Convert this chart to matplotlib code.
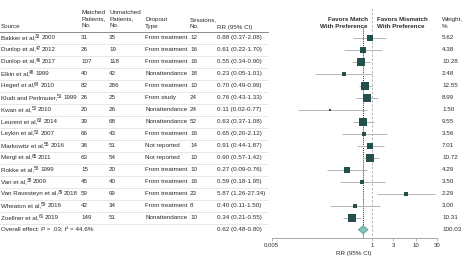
import matplotlib
matplotlib.use("Agg")
import matplotlib.pyplot as plt
from matplotlib.patches import Polygon
import numpy as np

FONT = "Liberation Sans"
plt.rcParams['font.family'] = [FONT, 'DejaVu Sans']

authors = ["Bakker et al", "Dunlop et al", "Dunlop et al", "Elkin et al", "Hegerl et al",
           "Kludt and Perlmuter", "Kwan et al", "Leurent et al", "Leykin et al",
           "Markowitz et al", "Mergl et al", "Rokke et al", "Van et al",
           "Van Ravesteyn et al", "Wheaton et al", "Zoellner et al"]
refs = [33, 47, 46, 48, 64, 51, 52, 63, 53, 55, 65, 58, 38, 39, 59, 61]
years = [2000, 2012, 2017, 1999, 2010, 1999, 2010, 2014, 2007, 2016, 2011, 1999, 2009, 2018, 2016, 2019]
matched = [31, 26, 107, 40, 82, 26, 20, 39, 66, 36, 63, 15, 45, 59, 42, 149]
unmatched = [35, 19, 118, 42, 286, 25, 26, 68, 43, 51, 54, 20, 40, 99, 34, 51]
dropout = ["From treatment", "From treatment", "From treatment", "Nonattendance", "From treatment",
           "From study", "Nonattendance", "Nonattendance", "From treatment", "Not reported",
           "Not reported", "From treatment", "From treatment", "From treatment", "From treatment",
           "Nonattendance"]
sessions = [12, 16, 16, 18, 10, 24, 24, 52, 16, 14, 10, 10, 16, 23, 8, 10]
rr = [0.88, 0.61, 0.55, 0.23, 0.70, 0.76, 0.11, 0.63, 0.65, 0.91, 0.90, 0.27, 0.59, 5.87, 0.40, 0.34]
lo = [0.37, 0.22, 0.34, 0.05, 0.49, 0.43, 0.02, 0.37, 0.20, 0.44, 0.57, 0.09, 0.18, 1.26, 0.11, 0.21]
hi = [2.08, 1.70, 0.90, 1.01, 0.99, 1.33, 0.77, 1.08, 2.12, 1.87, 1.42, 0.76, 1.95, 27.34, 1.50, 0.55]
weights = [5.62, 4.38, 10.28, 2.48, 12.55, 8.99, 1.50, 9.55, 3.56, 7.01, 10.72, 4.29, 3.50, 2.29, 3.00, 10.31]
overall_rr, overall_lo, overall_hi, overall_w = 0.62, 0.48, 0.80, 100.03
overall_label = "Overall effect: P = .03; I\u00b2 = 44.6%"
xticks = [0.005, 1, 3, 10, 30]
xticklabels = ["0.005", "1", "3", "10", "30"]

W, H = 468, 259
fig = plt.figure(figsize=(W / 100, H / 100), dpi=100)
bg = fig.add_axes([0, 0, 1, 1])
bg.set_xlim(0, W)
bg.set_ylim(H, 0)
bg.axis('off')

TXT = '#2b2b2b'
FS = 4.5
LS = 1.35
row0, dy = 37.7, 12.0
n = len(authors)

def ry(i):
    return row0 + dy * i

# header
hdr = dict(fontsize=FS, color=TXT, va='center', ha='left', linespacing=LS)
bg.text(1, 27, "Source", **hdr)
bg.text(81, 19, "Matched\nPatients,\nNo.", **hdr)
bg.text(109, 19, "Unmatched\nPatients,\nNo.", **hdr)
bg.text(145, 23, "Dropout\nType", **hdr)
bg.text(190, 23, "Sessions,\nNo.", **hdr)
bg.text(217, 27, "RR (95% CI)", **hdr)
bg.text(368, 23, "Favors Match\nWith Preference", fontweight='bold', **{**hdr, 'ha': 'right'})
bg.text(377, 23, "Favors Mismatch\nWith Preference", fontweight='bold', **hdr)
bg.text(442, 23, "Weight,\n%", **hdr)
bg.plot([0, 268], [31.5, 31.5], color='#777777', lw=0.6)

cell = dict(fontsize=FS, color=TXT, va='center', ha='left')
for i in range(n):
    y = ry(i)
    t1 = bg.text(1, y, f"{authors[i]},", **cell)
    t2 = bg.annotate(str(refs[i]), xy=(1, 0.26), xycoords=t1, xytext=(-0.4, 0),
                     textcoords='offset points', fontsize=FS * 0.75, color=TXT,
                     va='bottom', ha='left')
    bg.annotate(f"{years[i]}", xy=(1, 0.5), xycoords=(t2, t1), xytext=(0.9, 0),
                textcoords='offset points', fontsize=FS, color=TXT,
                va='center', ha='left')
    bg.text(81, y, str(matched[i]), **cell)
    bg.text(109, y, str(unmatched[i]), **cell)
    bg.text(145, y, dropout[i], **cell)
    bg.text(190, y, str(sessions[i]), **cell)
    bg.text(217, y, f"{rr[i]:.2f} ({lo[i]:.2f}-{hi[i]:.2f})", **cell)
    bg.text(442, y, f"{weights[i]:.2f}", **cell)
    bg.plot([0, 268], [y + 6, y + 6], color='#dddddd', lw=0.5)
yo = ry(n)
bg.text(1, yo, overall_label, **cell)
bg.text(217, yo, f"{overall_rr:.2f} ({overall_lo:.2f}-{overall_hi:.2f})", **cell)
bg.text(442, yo, f"{overall_w:.2f}", **cell)

# forest axes
x0, x1 = 271.7, 436.8
ybot = 238.0
ax = fig.add_axes([x0 / W, 1 - ybot / H, (x1 - x0) / W, ybot / H])
ax.set_xscale('log')
ax.set_xlim(0.005, 30)
ytop_idx = -row0 / dy
ybot_idx = (ybot - row0) / dy
ax.set_ylim(ybot_idx, ytop_idx)
ax.patch.set_alpha(0)
for s in ['top', 'right', 'left']:
    ax.spines[s].set_visible(False)
ax.spines['bottom'].set_color('#999999')
ax.spines['bottom'].set_linewidth(0.6)
ax.set_yticks([])
ax.set_xticks(xticks)
ax.set_xticklabels(xticklabels)
ax.xaxis.set_minor_locator(matplotlib.ticker.NullLocator())
ax.tick_params(axis='x', labelsize=FS - 0.2, labelcolor=TXT, color='#999999',
               length=2, width=0.5, pad=1.5)
ax.set_xlabel("RR (95% CI)", fontsize=FS, color=TXT, labelpad=2.5)

# reference lines
ax.plot([1, 1], [(8 - row0) / dy, ybot_idx], color='#aaaaaa', lw=0.6, ls=(0, (3, 2)))
ax.plot([overall_rr, overall_rr], [(27 - row0) / dy, ybot_idx], color='#333333', lw=0.7,
        ls=(0, (1, 1)))

idx = np.arange(n)
ax.hlines(idx, lo, hi, color='#b5b5b5', lw=0.7, zorder=2)
for i in range(n):
    ax.plot(rr[i], i, marker='s', ms=1.76 * np.sqrt(weights[i]), color='#234f4c',
            mec='#234f4c', mew=0, zorder=3, ls='none')

# diamond
dh = 0.33
diamond = Polygon([[overall_lo, n], [overall_rr, n - dh], [overall_hi, n], [overall_rr, n + dh]],
                  closed=True, facecolor='#86c3bb', edgecolor='#5a9d95', lw=0.6, zorder=3)
ax.add_patch(diamond)

fig.savefig("out.png", dpi=100)
